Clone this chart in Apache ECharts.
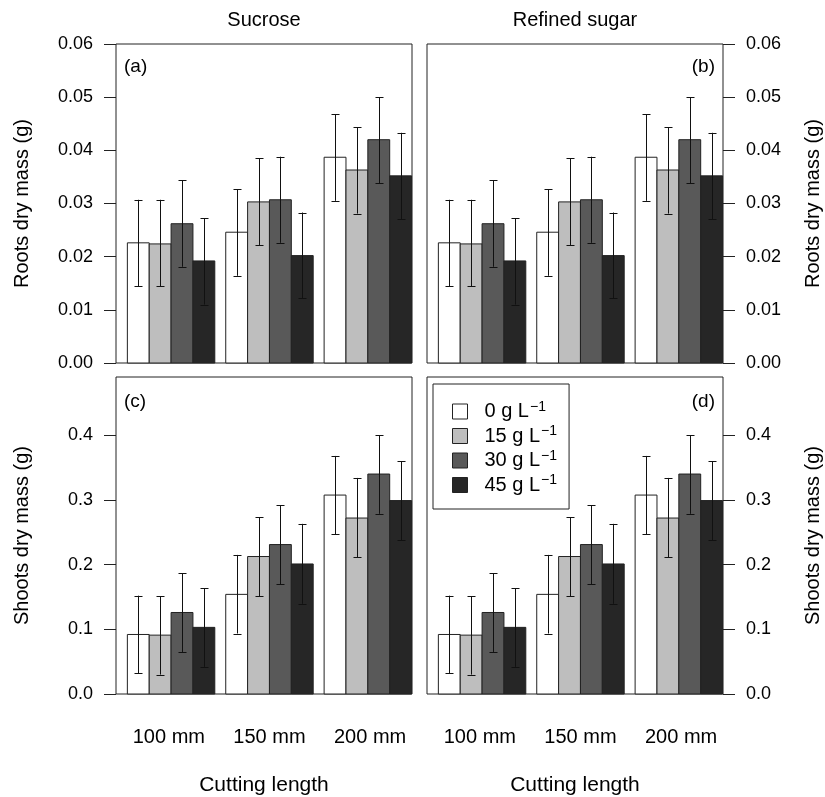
<!DOCTYPE html>
<html>
<head>
<meta charset="utf-8">
<script src="https://cdn.jsdelivr.net/npm/echarts@6/dist/echarts.min.js"></script>
<style>html,body{margin:0;padding:0;background:#fff}#c{width:825px;height:797px}</style>
</head>
<body>
<div id="c"></div>
<script>
// ---- data ----
const cuttingLengths = ['100 mm', '150 mm', '200 mm'];
const concentrations = ['0', '15', '30', '45'];           // g L^-1
const panelTitles = ['Sucrose', 'Refined sugar'];
const panelLetters = ['(a)', '(b)', '(c)', '(d)'];
const rootsTicks = [0, 0.01, 0.02, 0.03, 0.04, 0.05, 0.06];
const shootsTicks = [0, 0.1, 0.2, 0.3, 0.4];

// rows: concentration (0,15,30,45); columns: cutting length (100,150,200 mm)
const rootsMean = [
  [0.0226, 0.0246, 0.0387],
  [0.0224, 0.0303, 0.0363],
  [0.0262, 0.0307, 0.0420],
  [0.0192, 0.0202, 0.0352]
];
const rootsUpper = [
  [0.0307, 0.0327, 0.0468],
  [0.0307, 0.0385, 0.0443],
  [0.0344, 0.0388, 0.0500],
  [0.0272, 0.0283, 0.0433]
];
const rootsLower = [
  [0.0144, 0.0164, 0.0305],
  [0.0144, 0.0222, 0.0281],
  [0.0181, 0.0226, 0.0338],
  [0.0110, 0.0122, 0.0270]
];
const shootsMean = [
  [0.092, 0.154, 0.3075],
  [0.091, 0.2125, 0.272],
  [0.126, 0.231, 0.340],
  [0.103, 0.201, 0.299]
];
const shootsUpper = [
  [0.152, 0.215, 0.368],
  [0.151, 0.273, 0.334],
  [0.187, 0.292, 0.400],
  [0.1635, 0.263, 0.360]
];
const shootsLower = [
  [0.032, 0.0935, 0.247],
  [0.030, 0.151, 0.211],
  [0.065, 0.170, 0.2785],
  [0.042, 0.1395, 0.2375]
];

// ---- styling ----
const barColors = ['#ffffff', '#bebebe', '#595959', '#262626'];
const FONT = 'Liberation Sans, Arial, sans-serif';
const TXT = '#000';

// bar positions like R barplot(beside=TRUE, space=c(0,0.5))
const nBars = concentrations.length;
function barX(g, j) { return 1 + g * (nBars + 0.5) + j; }
const groupCenters = cuttingLengths.map((_, g) => barX(g, (nBars - 1) / 2));
const xMin = -0.02, xMax = 3 * (nBars + 0.5) + 0.02;
// category labels sit slightly wider apart than the bar groups in the original
const labelSpread = 1.023;
const labelAt = groupCenters.map(c => groupCenters[1] + (c - groupCenters[1]) * labelSpread);

const grids = [
  { left: 116, top: 44, width: 296, height: 319 },
  { left: 427, top: 44, width: 296, height: 319 },
  { left: 116, top: 377, width: 296, height: 320 },
  { left: 427, top: 377, width: 296, height: 320 }
].map(g => Object.assign(g, { show: true, borderColor: '#222', borderWidth: 1, backgroundColor: 'transparent' }));

const xAxes = grids.map((g, i) => ({
  gridIndex: i, type: 'value', min: xMin, max: xMax,
  axisLine: { show: false, onZero: false }, axisTick: { show: false }, splitLine: { show: false },
  axisLabel: i < 2 ? { show: false } : {
    customValues: labelAt,
    formatter: v => cuttingLengths[labelAt.findIndex(c => Math.abs(c - v) < 1e-6)],
    margin: 33, fontSize: 20, color: TXT, fontFamily: FONT
  },
  name: i < 2 ? '' : 'Cutting length', nameLocation: 'middle', nameGap: 81,
  nameTextStyle: { fontSize: 21, color: TXT, fontFamily: FONT }
}));

const yAxes = grids.map((g, i) => {
  const isRoots = i < 2;
  const ticks = isRoots ? rootsTicks : shootsTicks;
  const isLeft = (i % 2 === 0);
  return {
    gridIndex: i, type: 'value', min: 0, max: isRoots ? 0.06 : 0.49,
    position: isLeft ? 'left' : 'right',
    axisLine: { show: false, onZero: false },
    axisTick: { show: true, length: 12, inside: false, customValues: ticks, lineStyle: { color: '#222', width: 1 } },
    axisLabel: { customValues: ticks, formatter: v => v.toFixed(isRoots ? 2 : 1), margin: 23,
      fontSize: 18, color: TXT, fontFamily: FONT },
    splitLine: { show: false },
    name: isRoots ? 'Roots dry mass (g)' : 'Shoots dry mass (g)',
    nameLocation: 'middle', nameRotate: 90, nameGap: isLeft ? 84 : 80,
    nameTextStyle: { fontSize: 20, color: TXT, fontFamily: FONT }
  };
});

function renderBar(params, api) {
  const x = api.value(0), y = api.value(1), lo = api.value(2), hi = api.value(3);
  const pL = api.coord([x - 0.5, 0]);
  const pR = api.coord([x + 0.5, y]);
  const pc = api.coord([x, lo]);
  const ph = api.coord([x, hi]);
  const cx = Math.round(pc[0]) + 0.5;
  const cap = 4;
  const line = (x1, y1, x2, y2) => ({ type: 'line', shape: { x1, y1, x2, y2 },
    style: { stroke: '#111', lineWidth: 1 } });
  return {
    type: 'group',
    children: [
      { type: 'rect', shape: { x: pL[0], y: pR[1], width: pR[0] - pL[0], height: pL[1] - pR[1] },
        style: { fill: api.visual('color'), stroke: '#222', lineWidth: 1 } },
      line(cx, pc[1], cx, ph[1]),
      line(cx - cap, Math.round(ph[1]) + 0.5, cx + cap, Math.round(ph[1]) + 0.5),
      line(cx - cap, Math.round(pc[1]) + 0.5, cx + cap, Math.round(pc[1]) + 0.5)
    ]
  };
}

const seriesNames = concentrations.map(c => c + ' g L-1');
const series = [];
for (let p = 0; p < 4; p++) {
  const isRoots = p < 2;
  const M = isRoots ? rootsMean : shootsMean;
  const U = isRoots ? rootsUpper : shootsUpper;
  const L = isRoots ? rootsLower : shootsLower;
  for (let j = 0; j < nBars; j++) {
    series.push({
      type: 'custom', name: seriesNames[j],
      xAxisIndex: p, yAxisIndex: p,
      itemStyle: { color: barColors[j], borderColor: '#222', borderWidth: 1 },
      renderItem: renderBar,
      encode: { x: 0, y: 1 },
      clip: false,
      data: cuttingLengths.map((_, g) => [barX(g, j), M[j][g], L[j][g], U[j][g]])
    });
  }
}

const legendRich = {
  t: { fontSize: 20, color: TXT, fontFamily: FONT, padding: [0, 0, 0, 12] },
  s: { fontSize: 14, color: TXT, fontFamily: FONT, verticalAlign: 'top', padding: [0, 0, 9, 1] }
};

const option = {
  animation: false,
  backgroundColor: '#fff',
  textStyle: { fontFamily: FONT, color: TXT },
  grid: grids,
  xAxis: xAxes,
  yAxis: yAxes,
  legend: {
    left: 433, top: 384, orient: 'vertical',
    padding: [16, 12, 14, 19], itemGap: 3, itemWidth: 15, itemHeight: 15,
    borderColor: '#222', borderWidth: 1, backgroundColor: '#fff',
    icon: 'rect',
    data: seriesNames.map((n, j) => ({ name: n, itemStyle: { color: barColors[j], borderColor: '#222', borderWidth: 1 } })),
    formatter: n => '{t|' + n.replace(' g L-1', ' g L') + '}{s|\u22121}',
    textStyle: { rich: legendRich, fontSize: 20 },
    selectedMode: false
  },
  graphic: [
    { type: 'text', x: 264, y: 20, style: { text: panelTitles[0], font: '20px ' + FONT, fill: TXT, textAlign: 'center', textVerticalAlign: 'middle' } },
    { type: 'text', x: 575, y: 20, style: { text: panelTitles[1], font: '20px ' + FONT, fill: TXT, textAlign: 'center', textVerticalAlign: 'middle' } }
  ].concat([
    { x: 124, y: 67, align: 'left' }, { x: 715, y: 67, align: 'right' },
    { x: 124, y: 402, align: 'left' }, { x: 715, y: 402, align: 'right' }
  ].map((p, i) => ({ type: 'text', x: p.x, y: p.y,
    style: { text: panelLetters[i], font: '19px ' + FONT, fill: TXT, textAlign: p.align, textVerticalAlign: 'middle' } }))),
  series: series
};

const chart = echarts.init(document.getElementById('c'), null, { renderer: 'canvas' });
chart.setOption(option);
</script>
</body>
</html>
